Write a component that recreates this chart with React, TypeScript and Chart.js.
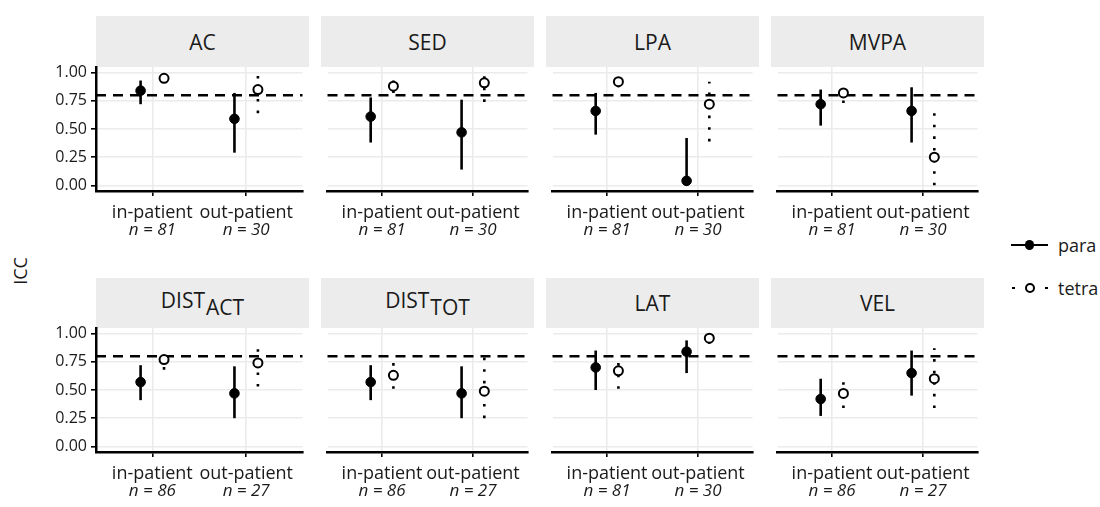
import React, { useEffect, useRef } from "react";
import { Chart, registerables } from "chart.js";

Chart.register(...registerables);

const FONT = "'Open Sans', 'DejaVu Sans', sans-serif";

// Facets (measures), in display order; "DIST_ACT" style names get a subscript.
const measures = ["AC", "SED", "LPA", "MVPA", "DIST_ACT", "DIST_TOT", "LAT", "VEL"];
const settings = ["in-patient", "out-patient"];
const sampleSizes = [
  [81, 30], [81, 30], [81, 30], [81, 30],
  [86, 27], [86, 27], [81, 30], [86, 27],
];

// para: estimate, lower and upper confidence limits, per measure [in, out]
const paraIcc = [
  [0.84, 0.59], [0.61, 0.47], [0.66, 0.04], [0.72, 0.66],
  [0.57, 0.47], [0.57, 0.47], [0.70, 0.84], [0.42, 0.65],
];
const paraLower = [
  [0.72, 0.29], [0.38, 0.14], [0.45, 0.0], [0.53, 0.38],
  [0.41, 0.25], [0.41, 0.25], [0.50, 0.65], [0.27, 0.45],
];
const paraUpper = [
  [0.93, 0.82], [0.78, 0.76], [0.82, 0.42], [0.85, 0.87],
  [0.72, 0.71], [0.72, 0.71], [0.85, 0.94], [0.60, 0.85],
];

// tetra: estimate, lower and upper confidence limits, per measure [in, out]
const tetraIcc = [
  [0.95, 0.85], [0.88, 0.91], [0.92, 0.72], [0.82, 0.25],
  [0.77, 0.74], [0.63, 0.49], [0.67, 0.96], [0.47, 0.60],
];
const tetraLower = [
  [0.93, 0.64], [0.82, 0.74], [0.87, 0.39], [0.73, 0.0],
  [0.68, 0.53], [0.51, 0.25], [0.51, 0.91], [0.34, 0.34],
];
const tetraUpper = [
  [0.97, 0.97], [0.93, 0.98], [0.95, 0.92], [0.91, 0.70],
  [0.85, 0.92], [0.75, 0.79], [0.80, 0.98], [0.61, 0.87],
];

const yTicks = [0, 0.25, 0.5, 0.75, 1];
const threshold = 0.8;
const dodge = 0.125;

// Facet grid geometry
const panelLeft = [96, 321, 546, 771];
const panelWidth = 213;
const panelTop = [67, 328];
const panelHeight = 124;
const stripTop = [16, 278];
const axisWidth = 56;
const padTop = 20;
const xAxisHeight = 50;

const GRID = "#ebebeb";

const xLabelsPlugin = {
  id: "xLabels",
  afterDraw(chart: any) {
    const { ctx, chartArea } = chart;
    const xs = chart.scales.x;
    const sizes: number[] = chart.options.plugins.xLabels.sizes;
    ctx.save();
    ctx.fillStyle = "#1a1a1a";
    ctx.textAlign = "center";
    ctx.textBaseline = "alphabetic";
    settings.forEach((name, i) => {
      const x = xs.getPixelForValue(i + 1);
      ctx.font = `18px ${FONT}`;
      ctx.fillText(name, x, chartArea.bottom + 27);
      ctx.font = `italic 17px ${FONT}`;
      ctx.fillText(`n = ${sizes[i]}`, x, chartArea.bottom + 44);
    });
    ctx.restore();
  },
};

function buildConfig(idx: number): any {
  const col = idx % 4;
  const datasets: any[] = [];

  datasets.push({
    data: [{ x: 0.4, y: threshold }, { x: 2.6, y: threshold }],
    borderColor: "#000",
    borderWidth: 2.5,
    borderDash: [10, 7],
    pointRadius: 0,
    order: 3,
  });

  settings.forEach((_, s) => {
    datasets.push({
      data: [
        { x: s + 1 - dodge, y: paraLower[idx][s] },
        { x: s + 1 - dodge, y: paraUpper[idx][s] },
      ],
      borderColor: "#000",
      borderWidth: 2.6,
      pointRadius: 0,
      order: 2,
    });
    datasets.push({
      data: [
        { x: s + 1 + dodge, y: tetraLower[idx][s] },
        { x: s + 1 + dodge, y: tetraUpper[idx][s] },
      ],
      borderColor: "#000",
      borderWidth: 2.6,
      borderDash: [2.6, 9],
      pointRadius: 0,
      order: 2,
    });
  });

  datasets.push({
    label: "para",
    data: settings.map((_, s) => ({ x: s + 1 - dodge, y: paraIcc[idx][s] })),
    showLine: false,
    pointRadius: 4.8,
    pointBackgroundColor: "#000",
    pointBorderColor: "#000",
    pointBorderWidth: 1,
    order: 1,
  });
  datasets.push({
    label: "tetra",
    data: settings.map((_, s) => ({ x: s + 1 + dodge, y: tetraIcc[idx][s] })),
    showLine: false,
    pointRadius: 4.5,
    pointBackgroundColor: "#fff",
    pointBorderColor: "#000",
    pointBorderWidth: 2,
    order: 1,
  });

  return {
    type: "line",
    data: { datasets },
    plugins: [xLabelsPlugin],
    options: {
      animation: false,
      responsive: false,
      devicePixelRatio: 1,
      clip: false,
      layout: { padding: { top: padTop, left: 0, right: 0, bottom: 0 } },
      elements: { line: { tension: 0, borderCapStyle: "butt" } },
      plugins: {
        legend: { display: false },
        tooltip: { enabled: false },
        xLabels: { sizes: sampleSizes[idx] },
      },
      scales: {
        x: {
          type: "linear",
          min: 0.4,
          max: 2.6,
          afterBuildTicks: (s: any) => {
            s.ticks = [{ value: 1 }, { value: 2 }];
          },
          afterFit: (s: any) => {
            s.height = xAxisHeight;
          },
          ticks: { display: false },
          grid: {
            color: GRID,
            lineWidth: 1.6,
            drawTicks: true,
            tickLength: 5,
            tickColor: "#000",
            tickWidth: 1.6,
          },
          border: { display: true, color: "#000", width: 2.5 },
        },
        y: {
          type: "linear",
          min: -0.05,
          max: 1.05,
          afterBuildTicks: (s: any) => {
            s.ticks = yTicks.map((v) => ({ value: v }));
          },
          afterFit: (s: any) => {
            s.width = col === 0 ? axisWidth : 0;
          },
          ticks: {
            display: col === 0,
            padding: 4,
            color: "#1a1a1a",
            font: { family: FONT, size: 16 },
            callback: (v: any) => Number(v).toFixed(2),
          },
          grid: {
            color: GRID,
            lineWidth: 1.6,
            drawTicks: col === 0,
            tickLength: 5,
            tickColor: "#000",
            tickWidth: 1.6,
          },
          border: { display: col === 0, color: "#000", width: 2.5 },
        },
      },
    },
  };
}

function StripLabel({ name }: { name: string }) {
  const [main, sub] = name.split("_");
  if (!sub) return <span>{main}</span>;
  return (
    <span style={{ position: "relative", top: -3.5 }}>
      {main}
      <span style={{ position: "relative", top: 7, marginLeft: 1 }}>{sub}</span>
    </span>
  );
}

function Panel({ idx }: { idx: number }) {
  const ref = useRef<HTMLCanvasElement | null>(null);
  const row = Math.floor(idx / 4);
  const col = idx % 4;
  const extra = col === 0 ? axisWidth : 0;
  const width = panelWidth + extra;
  const height = padTop + panelHeight + xAxisHeight;

  useEffect(() => {
    const chart = new Chart(ref.current as HTMLCanvasElement, buildConfig(idx));
    return () => chart.destroy();
  }, [idx]);

  return (
    <>
      <div
        style={{
          position: "absolute",
          left: panelLeft[col],
          top: stripTop[row],
          width: panelWidth,
          height: panelTop[row] - stripTop[row],
          background: "#ececec",
          display: "flex",
          alignItems: "center",
          justifyContent: "center",
          fontSize: 21,
          color: "#1a1a1a",
        }}
      >
        <StripLabel name={measures[idx]} />
      </div>
      <canvas
        ref={ref}
        width={width}
        height={height}
        style={{
          position: "absolute",
          left: panelLeft[col] - extra,
          top: panelTop[row] - padTop,
          width,
          height,
        }}
      />
    </>
  );
}

function Legend() {
  const text: React.CSSProperties = {
    position: "absolute",
    left: 47,
    top: -12,
    fontSize: 18,
    lineHeight: "24px",
    color: "#1a1a1a",
  };
  return (
    <>
      <div style={{ position: "absolute", left: 1011, top: 245 }}>
        <div style={{ position: "absolute", left: 0, top: -1.3, width: 37, height: 2.6, background: "#000" }} />
        <div
          style={{
            position: "absolute", left: 14, top: -4.7, width: 9.4, height: 9.4,
            borderRadius: "50%", background: "#000",
          }}
        />
        <div style={text}>para</div>
      </div>
      <div style={{ position: "absolute", left: 1011, top: 288 }}>
        <div style={{ position: "absolute", left: 1, top: -1.3, width: 2.6, height: 2.6, background: "#000" }} />
        <div style={{ position: "absolute", left: 34, top: -1.3, width: 2.6, height: 2.6, background: "#000" }} />
        <div
          style={{
            position: "absolute", left: 14, top: -5, width: 6, height: 6,
            borderRadius: "50%", background: "#fff", border: "2px solid #000",
          }}
        />
        <div style={text}>tetra</div>
      </div>
    </>
  );
}

export default function App() {
  return (
    <div
      style={{
        position: "absolute",
        left: 0,
        top: 0,
        width: 1100,
        height: 507,
        background: "#fff",
        fontFamily: FONT,
        overflow: "hidden",
      }}
    >
      {measures.map((m, i) => (
        <Panel key={m} idx={i} />
      ))}
      <div
        style={{
          position: "absolute",
          left: 20,
          top: 271,
          transform: "translate(-50%, -50%) rotate(-90deg)",
          fontSize: 18,
          color: "#1a1a1a",
          whiteSpace: "nowrap",
        }}
      >
        ICC
      </div>
      <Legend />
    </div>
  );
}
